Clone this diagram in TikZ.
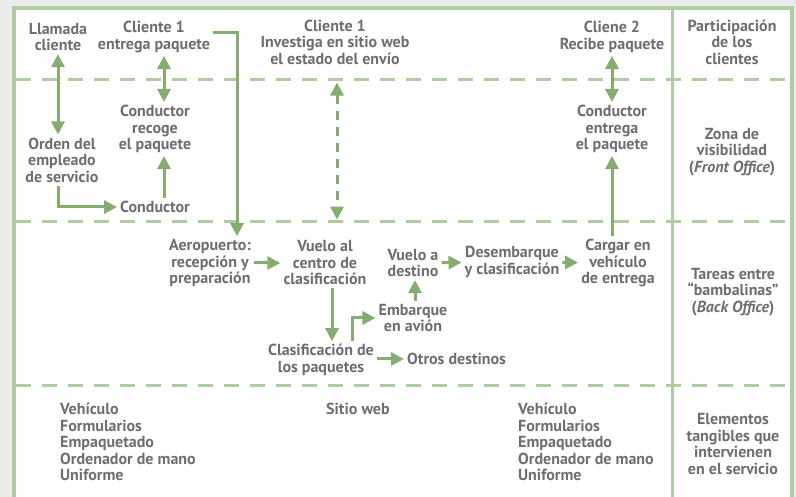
\documentclass[tikz,border=0pt]{standalone}
\usepackage{fontspec}
\setmainfont{PT Sans}
\usetikzlibrary{arrows.meta}
\definecolor{verde}{HTML}{86AD70}
\definecolor{verdeclaro}{HTML}{B0CCA2}
\definecolor{grisletra}{HTML}{6D6E71}
\definecolor{fondo}{HTML}{ECECEC}
\tikzset{
  every picture/.style={font=\bfseries\fontsize{16}{16.5}\selectfont},
  texto/.style={text=grisletra, align=center, inner sep=3pt},
  lista/.style={text=grisletra, align=left, anchor=north west, inner sep=0pt},
  flecha/.style={-{Triangle[length=13pt,width=13pt]}, line width=3pt, verde},
  flechad/.style={{Triangle[length=13pt,width=13pt]}-{Triangle[length=13pt,width=13pt]}, line width=3pt, verde},
  flechap/.style={flechad, dash pattern=on 9pt off 7pt},
  borde/.style={line width=4pt, verdeclaro},
  division/.style={line width=3pt, verdeclaro, dash pattern=on 15pt off 11pt},
}
\begin{document}
\begin{tikzpicture}[x=1pt, y=-1pt]
  % fondo y marco
  \fill[fondo] (0,0) rectangle (796,497);
  \fill[white] (14,8.5) rectangle (792,497);
  \useasboundingbox (0,0) rectangle (796,497);
  \draw[borde] (14,500) -- (14,8.5) -- (792,8.5) -- (792,500);
  \draw[line width=3pt, verdeclaro] (672,8.5) -- (672,500);
  \draw[division] (16,80) -- (790,80);
  \draw[division] (16,221.5) -- (790,221.5);
  \draw[division] (16,385) -- (790,385);

  % participacion de los clientes
  \node[texto] (llamada) at (58,37) {Llamada\\cliente};
  \node[texto] (entrega1) at (154,37) {Cliente 1\\entrega paquete};
  \node[texto] (investiga) at (335,42) {Cliente 1\\Investiga en sitio web\\el estado del envío};
  \node[texto] (recibe) at (612,37) {Cliene 2\\Recibe paquete};
  \node[texto] (participacion) at (732,42) {Participación\\de los\\clientes};

  % zona de visibilidad
  \node[texto] (orden) at (62,160) {Orden del\\empleado\\de servicio};
  \node[texto] (recoge) at (155,129) {Conductor\\recoge\\el paquete};
  \node[texto] (conductor) at (155,207) {Conductor};
  \node[texto] (entrega2) at (612,129) {Conductor\\entrega\\el paquete};
  \node[texto] (visibilidad) at (732,152) {Zona de\\visibilidad\\(\textit{Front Office})};

  % tareas entre bambalinas
  \node[texto] (aeropuerto) at (210,263) {Aeropuerto:\\recepción y\\preparación};
  \node[texto] (vuelocentro) at (325,263) {Vuelo al\\centro de\\clasificación};
  \node[texto] (vuelodestino) at (413,263) {Vuelo a\\destino};
  \node[texto] (desembarque) at (512,262) {Desembarque\\y clasificación};
  \node[texto] (cargar) at (618,263) {Cargar en\\vehículo\\de entrega};
  \node[texto] (bambalinas) at (733,292) {Tareas entre\\“bambalinas”\\(\textit{Back Office})};
  \node[texto] (embarque) at (413,318) {Embarque\\en avión};
  \node[texto] (clasificacion) at (321,360) {Clasificación de\\los paquetes};
  \node[texto, anchor=west] (otros) at (404,359) {Otros destinos};

  % elementos tangibles
  \node[lista] (elementos1) at (60,403) {Vehículo\\Formularios\\Empaquetado\\Ordenador de mano\\Uniforme};
  \node[lista] (sitioweb) at (326,403) {Sitio web};
  \node[lista] (elementos2) at (518,403) {Vehículo\\Formularios\\Empaquetado\\Ordenador de mano\\Uniforme};
  \node[texto] (tangibles) at (733,444) {Elementos\\tangibles que\\intervienen\\en el servicio};

  % flechas
  \draw[flechad] (llamada.south) -- (llamada.south |- orden.north);
  \draw[flechad] ([xshift=10pt]entrega1.south) -- ([xshift=9pt]recoge.north);
  \draw[flecha] ([xshift=-4pt]orden.south) |- (conductor.west);
  \draw[flecha] ([xshift=9pt]conductor.north) -- ([xshift=9pt]recoge.south);
  \draw[flecha] ([yshift=4pt]entrega1.east) -| ([xshift=27pt]aeropuerto.north);
  \draw[flechap, shorten <=15pt, shorten >=18pt] ([xshift=2pt]investiga.south) -- ([xshift=2pt]investiga.south |- vuelocentro.north);
  \draw[flechad] (recibe.south) -- (recibe.south |- entrega2.north);
  \draw[flecha] (cargar.north -| entrega2.south) -- (entrega2.south);
  \draw[flecha] (aeropuerto) -- (vuelocentro);
  \draw[flecha] ([xshift=7pt]vuelocentro.south) -- ([xshift=11pt]clasificacion.north);
  \draw[flecha] ([xshift=31pt]clasificacion.north) |- (embarque.west);
  \draw[flecha] ([xshift=2pt]embarque.north) -- ([xshift=2pt]vuelodestino.south);
  \draw[flecha] (vuelodestino) -- (desembarque);
  \draw[flecha] (desembarque) -- (cargar);
  \draw[flecha] (clasificacion.east |- otros) -- (otros.west);
\end{tikzpicture}
\end{document}
